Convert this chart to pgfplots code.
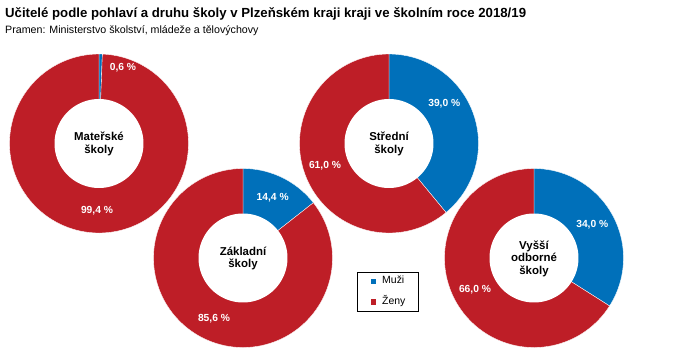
\documentclass[border=0pt]{standalone}
\usepackage{fontspec}
\setmainfont{Liberation Sans}
\usepackage{pgfplots}
\usepackage{pgfplotstable}
\pgfplotsset{compat=1.18}
\definecolor{muzi}{RGB}{0,112,186}
\definecolor{zeny}{RGB}{190,30,39}

% share of men / women (%) by school type
\pgfplotstableread{
row muzi zeny
0 0.6 99.4
1 14.4 85.6
2 39.0 61.0
3 34.0 66.0
}\donuts
\pgfplotstablegetelem{0}{muzi}\of\donuts \let\mA\pgfplotsretval
\pgfplotstablegetelem{0}{zeny}\of\donuts \let\zA\pgfplotsretval
\pgfplotstablegetelem{1}{muzi}\of\donuts \let\mB\pgfplotsretval
\pgfplotstablegetelem{1}{zeny}\of\donuts \let\zB\pgfplotsretval
\pgfplotstablegetelem{2}{muzi}\of\donuts \let\mC\pgfplotsretval
\pgfplotstablegetelem{2}{zeny}\of\donuts \let\zC\pgfplotsretval
\pgfplotstablegetelem{3}{muzi}\of\donuts \let\mD\pgfplotsretval
\pgfplotstablegetelem{3}{zeny}\of\donuts \let\zD\pgfplotsretval

\newcommand\donut[4]{%
  \addplot[forget plot, fill=muzi, draw=white, line width=0.35bp, variable=\t, domain=0:3.6*#3, samples=60]
    ({#1+89.5*sin(\t)},{#2-89.5*cos(\t)}) -- (axis cs:#1,#2) -- cycle;
  \addplot[forget plot, fill=zeny, draw=white, line width=0.35bp, variable=\t, domain=3.6*#3:3.6*(#3+#4), samples=150]
    ({#1+89.5*sin(\t)},{#2-89.5*cos(\t)}) -- (axis cs:#1,#2) -- cycle;
  \addplot[forget plot, fill=white, draw=none, variable=\t, domain=0:360, samples=120]
    ({#1+44.5*sin(\t)},{#2-44.5*cos(\t)}) -- cycle;
}

\begin{document}
\begin{tikzpicture}[
  lbl/.style={text=white, font=\bfseries\fontsize{10.3}{12}\selectfont},
  ctr/.style={align=center, font=\bfseries\fontsize{11.5}{12.5}\selectfont},
]
\path[use as bounding box] (0,0) rectangle (683bp,358bp);
\begin{axis}[
  at={(0,0)}, anchor=south west,
  x=1bp, y=1bp, xmin=0, xmax=683, ymin=0, ymax=358, y dir=reverse,
  hide axis, clip=false,
  legend style={at={(axis cs:357.3,271.7)}, anchor=north west, draw=black, line width=0.6bp,
    font=\fontsize{10.5}{12}\selectfont, row sep=11bp, column sep=6.5bp,
    inner xsep=0bp, inner ysep=0bp, minimum width=61bp, minimum height=39bp,
    nodes={inner sep=0pt, text height=0.75em, text depth=0.25em, minimum width=0pt, minimum height=0pt}},
  legend cell align=left,
  legend image code/.code={\fill[#1] (0bp,-2.2bp) rectangle (4.4bp,2.2bp);},
]
\donut{99}{143.5}{\mA}{\zA}
\donut{243}{258}{\mB}{\zB}
\donut{389}{143.5}{\mC}{\zC}
\donut{534}{258}{\mD}{\zD}

\node[lbl] at (axis cs:123,68) {0,6 \%};
\node[lbl] at (axis cs:97,211) {99,4 \%};
\node[lbl] at (axis cs:272.7,197.3) {14,4 \%};
\node[lbl] at (axis cs:214,318.3) {85,6 \%};
\node[lbl] at (axis cs:444.3,104) {39,0 \%};
\node[lbl] at (axis cs:325,166) {61,0 \%};
\node[lbl] at (axis cs:592.3,225) {34,0 \%};
\node[lbl] at (axis cs:475,289.3) {66,0 \%};

\node[ctr] at (axis cs:99,144) {Mateřské\\školy};
\node[ctr] at (axis cs:243,258.5) {Základní\\školy};
\node[ctr] at (axis cs:389,144) {Střední\\školy};
\node[ctr] at (axis cs:534,258.5) {Vyšší\\odborné\\školy};

\node[anchor=base west, inner sep=0pt, font=\bfseries\fontsize{13.25}{15}\selectfont] at (axis cs:5,17)
  {Učitelé podle pohlaví a druhu školy v Plzeňském kraji kraji ve školním roce 2018/19};
\node[anchor=base west, inner sep=0pt, font=\fontsize{10.7}{12}\selectfont] at (axis cs:5,33)
  {Pramen: Ministerstvo školství, mládeže a tělovýchovy};

\addlegendimage{muzi}
\addlegendentry{Muži}
\addlegendimage{zeny}
\addlegendentry{Ženy}
\end{axis}
\end{tikzpicture}
\end{document}
